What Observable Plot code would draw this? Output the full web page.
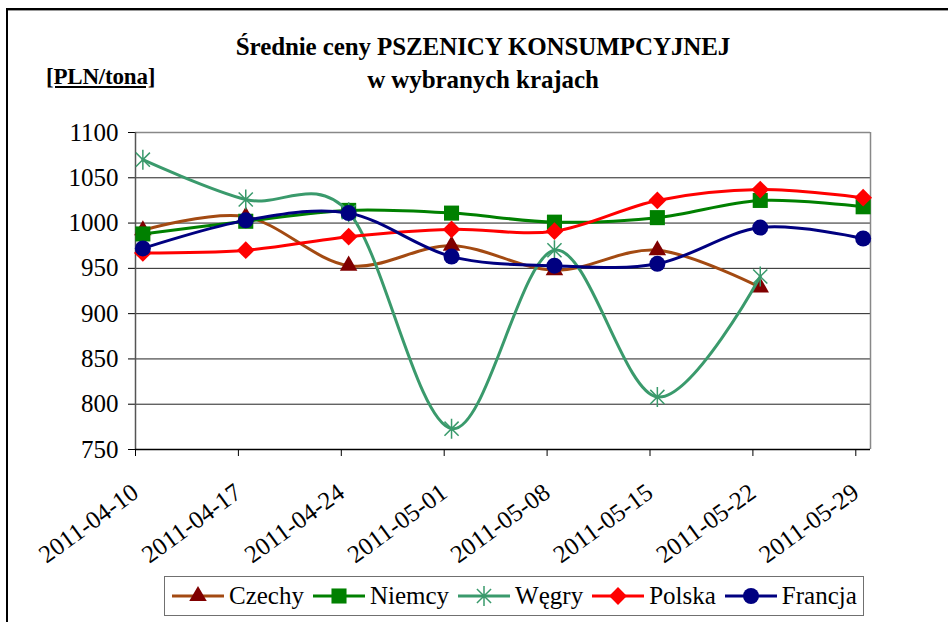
<!DOCTYPE html>
<html>
<head>
<meta charset="utf-8">
<script src="https://cdn.jsdelivr.net/npm/d3@7"></script>
<script src="https://cdn.jsdelivr.net/npm/@observablehq/plot@0.6"></script>
<style>
  html, body { margin: 0; padding: 0; background: #fff; }
  #wrap { position: relative; width: 948px; height: 622px; overflow: hidden; font-family: "Liberation Serif", "Times New Roman", Times, "Nimbus Roman", FreeSerif, "Noto Serif", Tinos, "DejaVu Serif", serif; }
  #frame { position: absolute; left: 6px; top: 8px; right: -10px; bottom: -10px; border-left: 2px solid #000; border-top: 2px solid #000; box-shadow: inset 0 1px 0 #999; }
  #title { position: absolute; left: 18px; top: 30px; width: 930px; text-align: center; font-weight: bold; font-size: 25px; line-height: 33px; letter-spacing: -0.1px; color: #000; }
  #unit { position: absolute; left: 46px; top: 65px; font-weight: bold; font-size: 23px; line-height: 1; text-decoration: underline; letter-spacing: -0.2px; color: #000; }
  #chart { position: absolute; left: 0; top: 110px; }
  #legend { position: absolute; left: 164px; top: 576px; width: 700px; height: 40px; border: 1.5px solid #707070; box-sizing: border-box; display: flex; align-items: center; padding-left: 7px; font-size: 25px; color: #000; }
  .item { display: flex; align-items: center; margin-right: 9px; }
  .item svg { margin-right: 5px; }
  #chart svg text { font-family: "Liberation Serif", "Times New Roman", Times, "Nimbus Roman", FreeSerif, "Noto Serif", Tinos, "DejaVu Serif", serif; }
</style>
</head>
<body>
<div id="wrap">
  <div id="frame"></div>
  <div id="title">Średnie ceny PSZENICY KONSUMPCYJNEJ<br>w wybranych krajach</div>
  <div id="unit">[PLN/tona]</div>
  <div id="chart"></div>
  <div id="legend"></div>
</div>
<script>
// ---- data ----
const dates = ["2011-04-10", "2011-04-17", "2011-04-24", "2011-05-01", "2011-05-08", "2011-05-15", "2011-05-22", "2011-05-29"];
const czechy  = [992, 1007, 953, 975, 948, 970, 929, null];
const niemcy  = [988, 1002, 1014, 1011, 1001, 1006, 1025, 1018];
const wegry   = [1070, 1026, 1012, 773, 970, 808, 941, null];
const polska  = [967, 970, 985, 993, 991, 1025, 1037, 1028];
const francja = [972, 1003, 1011, 963, 953, 955, 995, 983];
const yTicks = [750, 800, 850, 900, 950, 1000, 1050, 1100];
const seriesNames = ["Czechy", "Niemcy", "Węgry", "Polska", "Francja"];

// ---- styling ----
const starSymbol = {
  draw(context, size) {
    const r = Math.sqrt(size / Math.PI);
    const d = r * Math.SQRT1_2;
    context.moveTo(0, -r); context.lineTo(0, r);
    context.moveTo(-d, -d); context.lineTo(d, d);
    context.moveTo(-d, d); context.lineTo(d, -d);
  }
};
const styles = {
  "Czechy":  {values: czechy,  line: "#A34A12", marker: "#800000", symbol: "triangle", r: 6.5},
  "Niemcy":  {values: niemcy,  line: "#008000", marker: "#008000", symbol: "square", r: 8.5},
  "Węgry":   {values: wegry,   line: "#3A9A6C", marker: "#3A9A6C", symbol: starSymbol, r: 10, stroked: true},
  "Polska":  {values: polska,  line: "#FF0000", marker: "#FF0000", symbol: "diamond2", r: 8},
  "Francja": {values: francja, line: "#000080", marker: "#000080", symbol: "circle", r: 8}
};

const dayStart = d => new Date(d + "T00:00:00Z");
const dayMid = d => new Date(d + "T12:00:00Z");
const xTicks = dates.map(dayStart);

const marks = [];
marks.push(Plot.ruleY(yTicks.filter(v => v !== 750 && v !== 1100), {y: d => d, stroke: "#222", strokeWidth: 1}));
marks.push(Plot.ruleY([1100], {y: d => d, stroke: "#888", strokeWidth: 1.5}));
marks.push(Plot.ruleX([new Date("2011-05-30T00:00:00Z")], {x: d => d, stroke: "#888", strokeWidth: 1.5}));
marks.push(Plot.ruleX([new Date("2011-04-10T00:00:00Z")], {x: d => d, stroke: "#555", strokeWidth: 1.5}));
marks.push(Plot.ruleY([750], {y: d => d, stroke: "#000", strokeWidth: 1.5}));

for (const name of seriesNames) {
  const s = styles[name];
  const rows = dates.map((d, i) => ({date: dayMid(d), value: s.values[i]})).filter(r => r.value != null);
  marks.push(Plot.line(rows, {x: "date", y: "value", stroke: s.line, strokeWidth: 3, curve: "cardinal"}));
  if (s.stroked) {
    marks.push(Plot.dot(rows, {x: "date", y: "value", symbol: s.symbol, r: s.r, fill: "none", stroke: s.marker, strokeWidth: 1.5}));
  } else {
    marks.push(Plot.dot(rows, {x: "date", y: "value", symbol: s.symbol, r: s.r, fill: s.marker, stroke: "none"}));
  }
}

const chart = Plot.plot({
  width: 948,
  height: 460,
  marginTop: 22,
  marginLeft: 135,
  marginRight: 78,
  marginBottom: 121,
  style: {fontSize: "25px", background: "transparent", color: "#000", overflow: "visible"},
  x: {type: "utc", domain: [new Date("2011-04-10T00:00:00Z"), new Date("2011-05-30T00:00:00Z")], ticks: xTicks, tickFormat: d3.utcFormat("%Y-%m-%d"), tickRotate: -36, tickSize: 7, tickPadding: 33, label: null},
  y: {domain: [750, 1100], ticks: yTicks, tickFormat: d => String(d), tickSize: 7, tickPadding: 10, label: null},
  marks
});
document.getElementById("chart").appendChild(chart);

// ---- legend ----
const legend = d3.select("#legend");
for (const name of seriesNames) {
  const s = styles[name];
  const item = legend.append("div").attr("class", "item");
  const svg = item.append("svg").attr("width", 52).attr("height", 22);
  svg.append("line").attr("x1", 0).attr("x2", 52).attr("y1", 11).attr("y2", 11).attr("stroke", s.line).attr("stroke-width", 3);
  let sym;
  if (typeof s.symbol === "string") {
    const map = {triangle: d3.symbolTriangle, square: d3.symbolSquare, diamond2: d3.symbolDiamond2, circle: d3.symbolCircle};
    sym = map[s.symbol];
  } else sym = s.symbol;
  const path = d3.symbol(sym, Math.PI * s.r * s.r)();
  const p = svg.append("path").attr("d", path).attr("transform", "translate(26,11)");
  if (s.stroked) p.attr("fill", "none").attr("stroke", s.marker).attr("stroke-width", 1.5);
  else p.attr("fill", s.marker);
  item.append("span").text(name);
}
</script>
</body>
</html>
